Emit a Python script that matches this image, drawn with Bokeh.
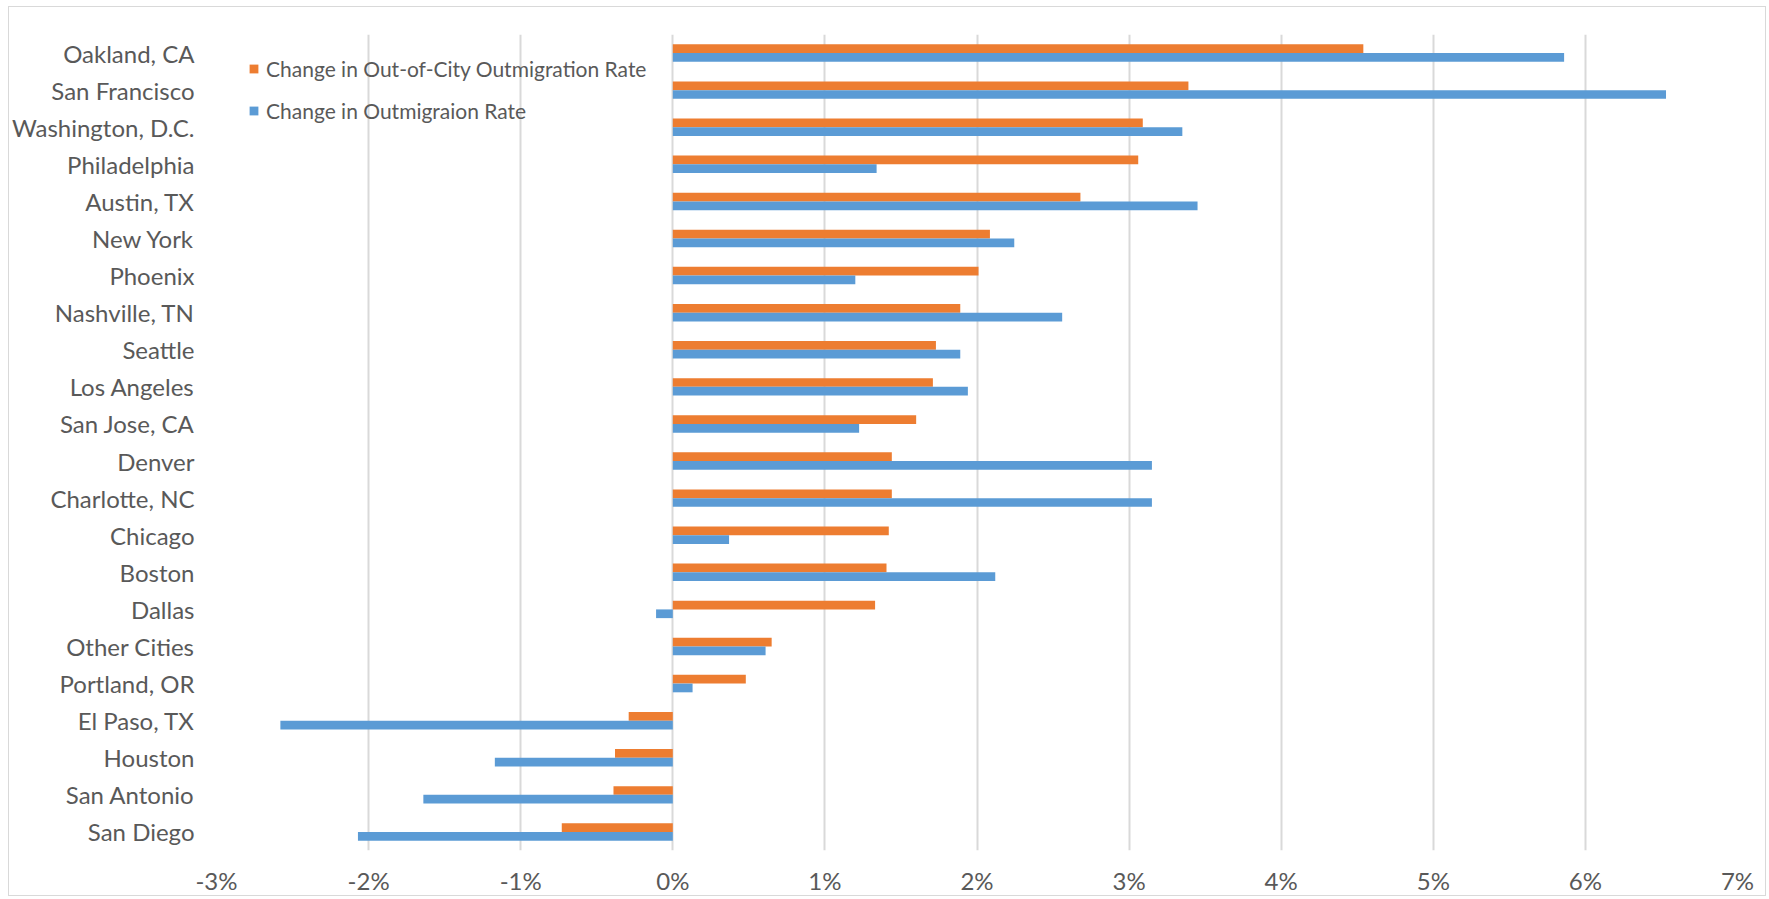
from bokeh.plotting import figure
from bokeh.models import FactorRange, FixedTicker, ColumnDataSource, Legend, LegendItem
from bokeh.transform import dodge
from bokeh.embed import file_html
from bokeh.resources import INLINE

cities = ["Oakland, CA", "San Francisco", "Washington, D.C.", "Philadelphia", "Austin, TX",
          "New York", "Phoenix", "Nashville, TN", "Seattle", "Los Angeles", "San Jose, CA",
          "Denver", "Charlotte, NC", "Chicago", "Boston", "Dallas", "Other Cities",
          "Portland, OR", "El Paso, TX", "Houston", "San Antonio", "San Diego"]
out_of_city_rate = [4.54, 3.39, 3.09, 3.06, 2.68, 2.085, 2.01, 1.89, 1.73, 1.71, 1.60,
                    1.44, 1.44, 1.42, 1.405, 1.33, 0.65, 0.48, -0.29, -0.38, -0.39, -0.73]
outmigration_rate = [5.86, 6.53, 3.35, 1.34, 3.45, 2.245, 1.20, 2.56, 1.89, 1.94, 1.225,
                     3.15, 3.15, 0.37, 2.12, -0.11, 0.61, 0.13, -2.58, -1.17, -1.64, -2.07]
series_names = ["Change in Out-of-City Outmigration Rate", "Change in Outmigraion Rate"]
x_ticks = [-3, -2, -1, 0, 1, 2, 3, 4, 5, 6, 7]
x_tick_labels = ["-3%", "-2%", "-1%", "0%", "1%", "2%", "3%", "4%", "5%", "6%", "7%"]

ORANGE = "#ED7D31"
BLUE = "#5B9BD5"
TEXT = "#595959"
FONT = "Lato"

src = ColumnDataSource(dict(city=cities, a=out_of_city_rate, b=outmigration_rate))

p = figure(width=1758, height=890,
           x_range=(x_ticks[0], x_ticks[-1]),
           y_range=FactorRange(factors=cities[::-1]),
           output_backend="svg", toolbar_location=None,
           min_border_left=206, min_border_right=30, min_border_top=27, min_border_bottom=46)
p.margin = (6, 0, 0, 8)
p.styles = {"border": "1px solid #d9d9d9"}
p.outline_line_color = None
p.background_fill_color = "white"
p.border_fill_color = "white"

bh = 0.235
r1 = p.hbar(y=dodge("city", bh / 2, range=p.y_range), left=0, right="a", height=bh,
            source=src, fill_color=ORANGE, line_color=None)
r2 = p.hbar(y=dodge("city", -bh / 2, range=p.y_range), left=0, right="b", height=bh,
            source=src, fill_color=BLUE, line_color=None)

tk = FixedTicker(ticks=x_ticks)
p.xaxis.ticker = tk
p.xgrid.ticker = tk
p.xaxis.major_label_overrides = {t: l for t, l in zip(x_ticks, x_tick_labels)}
p.xgrid.grid_line_color = "#d9d9d9"
p.xgrid.grid_line_width = 2
p.ygrid.grid_line_color = None

for ax in (p.xaxis[0], p.yaxis[0]):
    ax.axis_line_color = None
    ax.major_tick_line_color = None
    ax.minor_tick_line_color = None
    ax.major_tick_out = 0
    ax.major_tick_in = 0
    ax.major_label_text_color = TEXT
    ax.major_label_text_font = FONT
    ax.major_label_text_font_size = "24px"
p.xaxis.major_label_standoff = 15
p.yaxis.major_label_standoff = 22

legend = Legend(items=[LegendItem(label=series_names[0], renderers=[r1]),
                       LegendItem(label=series_names[1], renderers=[r2])],
                location=(32, 727), orientation="vertical",
                glyph_width=11, glyph_height=11, label_standoff=7, spacing=17,
                padding=0, margin=0,
                label_text_font=FONT, label_text_font_size="21px", label_text_color=TEXT,
                border_line_color=None, background_fill_alpha=0)
p.add_layout(legend)

open("out.html", "w").write(file_html(p, INLINE))
